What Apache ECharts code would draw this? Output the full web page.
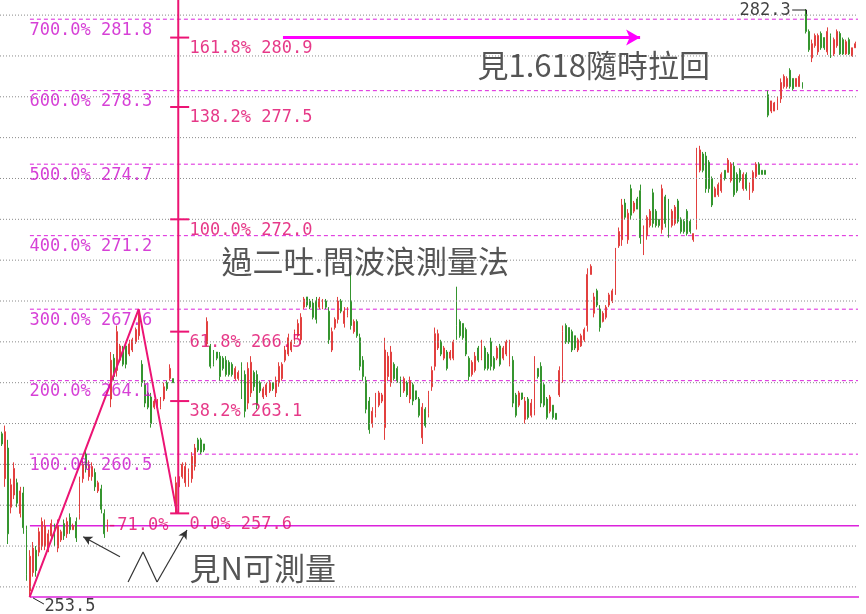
<!DOCTYPE html>
<html><head><meta charset="utf-8">
<script src="https://cdn.jsdelivr.net/npm/echarts@6/dist/echarts.min.js"></script>
<style>html,body{margin:0;padding:0;background:#fff}#c{width:866px;height:614px}</style>
</head><body><div id="c"></div><script>
// [open, close, low, high]
const ohlc = [
[261.5,261.0,260.9,261.6],[259.3,261.6,258.9,261.9],[260.8,256.6,256.1,261.2],[257.9,259.0,257.6,259.3],[258.5,259.8,258.3,260.1],
[259.1,258.1,257.9,259.3],[257.6,258.7,257.4,258.9],[258.6,256.9,256.6,258.9],[256.8,254.6,254.3,257.0],[253.8,255.5,253.5,255.8],
[254.7,255.9,254.5,256.2],[255.8,254.8,254.5,256.0],[255.7,256.7,255.5,256.9],[256.0,257.2,255.8,257.4],[256.0,257.0,255.8,257.3],
[255.9,256.6,255.7,256.8],[256.5,257.1,256.3,257.3],[256.9,256.2,256.0,257.1],[255.9,257.0,255.7,257.3],[256.3,256.7,256.2,256.8],
[257.1,256.5,256.3,257.3],[256.6,257.2,256.4,257.4],[257.4,256.8,256.6,257.6],[256.8,257.0,256.8,257.1],[257.2,256.4,256.2,257.4],
[257.6,259.1,257.3,259.4],[259.3,260.0,259.1,260.2],[260.5,259.8,259.6,260.7],[259.4,260.0,259.2,260.2],[259.4,259.9,259.2,260.1],
[259.6,258.9,258.7,259.8],[258.7,259.1,258.6,259.2],[258.8,257.8,257.6,259.0],[257.6,256.6,256.4,257.8],[256.8,257.2,256.7,257.3],
[263.2,265.1,262.8,265.5],[265.2,264.3,264.1,265.4],[264.6,266.5,264.3,266.8],[265.1,265.8,265.0,265.9],[265.6,264.9,264.8,265.8],
[265.8,264.9,264.7,265.9],[265.4,265.9,265.3,266.1],[265.6,266.1,265.5,266.2],[266.0,266.6,265.9,266.7],[266.3,267.4,266.1,267.6],
[264.9,264.0,263.8,265.1],[263.9,263.0,262.8,264.1],[263.5,262.8,262.7,263.6],[263.3,262.0,261.8,263.5],[262.8,263.1,262.7,263.2],
[262.8,263.1,262.7,263.2],[262.8,263.2,262.7,263.3],[263.2,263.8,263.1,264.0],[264.0,263.7,263.6,264.1],[264.2,264.7,264.1,264.9],
[264.2,264.0,264.0,264.2],
[257.9,259.1,257.6,259.4],[258.9,259.4,258.8,259.5],[259.4,260.0,259.3,260.1],[259.1,259.9,258.9,260.1],[259.0,259.6,258.9,259.8],
[259.3,260.4,259.1,260.6],[259.9,260.8,259.7,261.0],[261.2,260.7,260.6,261.3],[261.2,260.6,260.5,261.3],[261.0,260.7,260.6,261.0],
[265.9,267.0,265.8,267.2],[265.8,264.8,264.7,265.9],[265.5,264.9,264.8,265.6],[265.5,265.2,265.1,265.5],[265.3,264.3,264.1,265.5],
[265.2,264.7,264.6,265.3],[265.1,264.4,264.3,265.3],[265.0,264.4,264.3,265.1],[264.9,264.4,264.3,265.0],[264.2,264.7,264.1,264.8],
[264.2,264.5,264.1,264.6],[264.8,263.4,263.2,265.0],[264.4,262.6,262.3,264.6],[263.0,264.7,262.7,265.0],[263.5,265.0,263.3,265.3],
[264.5,263.8,263.6,264.6],[264.4,262.9,262.7,264.6],[264.0,263.6,263.5,264.1],[263.3,263.7,263.2,263.8],[263.4,263.9,263.3,264.0],
[263.6,264.0,263.5,264.1],[264.0,263.7,263.6,264.0],[263.5,264.1,263.3,264.3],[264.0,264.8,263.8,265.0],[264.2,264.9,264.1,265.0],
[265.1,265.6,265.0,265.8],[265.4,266.2,265.3,266.4],[265.6,266.0,265.5,266.1],[266.0,266.5,265.9,266.6],[266.3,266.9,266.2,267.1],
[266.1,267.2,265.9,267.4],[267.7,268.1,267.6,268.2],[268.2,267.8,267.7,268.2],[268.0,267.7,267.6,268.1],[267.9,267.2,267.1,268.1],
[268.0,267.1,266.9,268.2],[267.7,268.1,267.6,268.2],[267.7,268.0,267.6,268.1],[268.0,267.7,267.6,268.1],[267.5,266.1,265.9,267.7],
[265.6,266.5,265.5,266.7],[266.7,267.1,266.6,267.2],[267.1,268.0,266.9,268.2],[268.0,267.5,267.4,268.1],[266.9,267.5,266.7,267.7],
[267.3,267.6,267.2,267.7],[268.0,266.8,266.6,269.4],
[266.5,267.0,266.4,267.1],[267.0,266.3,266.2,267.1],[266.2,264.8,264.6,266.4],[265.1,264.3,264.1,265.3],[264.1,262.7,262.5,264.3],
[263.1,261.7,261.5,263.3],[262.0,262.6,261.8,262.8],[262.5,263.3,262.3,263.5],[262.9,263.5,262.8,263.6],[263.1,263.4,263.0,263.5],
[261.8,265.6,261.2,266.2],[264.3,265.3,264.1,265.5],[264.0,265.5,263.8,265.8],[264.9,264.2,264.1,265.0],[264.7,264.1,264.0,264.8],
[264.2,263.4,263.3,264.3],[263.6,264.2,263.5,264.3],[264.0,263.4,263.3,264.1],[263.2,264.1,263.0,264.3],[263.9,263.1,262.9,264.0],
[263.6,263.2,263.15,263.6],[263.2,262.4,262.3,263.3],[261.3,262.8,261.0,263.0],[262.7,261.9,261.8,262.8],[262.5,263.4,262.3,263.6],
[263.8,264.6,263.6,264.8],[264.8,266.4,264.6,266.7],[265.7,266.4,265.6,266.6],[266.0,265.4,265.3,266.1],[265.2,265.7,265.1,265.8],
[265.5,264.7,264.6,265.6],[265.2,265.5,265.1,265.6],[265.2,266.0,265.1,266.1],[266.8,266.3,266.1,268.7],[267.0,266.3,266.2,267.1],
[266.9,266.2,266.1,266.9],[266.6,265.4,265.3,266.7],[265.2,264.3,264.1,265.3],[264.4,265.0,264.3,265.1],[264.6,265.3,264.5,265.5],
[265.7,265.1,265.0,265.8],[265.2,265.9,265.1,266.1],[265.7,264.7,264.6,265.8],[265.4,264.7,264.6,265.5],[266.0,264.8,264.6,266.2],
[265.2,264.7,264.6,265.3],[265.2,265.7,265.1,265.8],[265.8,264.9,264.8,265.9],[265.2,265.7,265.1,265.8],[265.4,266.0,265.3,266.1],
[264.9,266.0,264.8,266.1],[265.1,263.0,262.8,265.3],[263.4,262.4,262.3,263.5],[262.9,263.5,262.8,263.6],[263.5,263.2,263.15,263.5],
[262.2,263.1,262.0,263.3],[263.2,262.3,262.2,263.3],[262.4,263.0,262.3,263.2],[262.7,265.0,262.4,265.3],[264.7,264.3,264.2,264.7],
[264.8,263.0,262.8,265.0],[263.9,262.9,262.8,264.0],[263.2,262.3,262.2,263.3],[262.6,263.3,262.5,263.4],[262.9,262.3,262.2,262.9],
[262.5,262.2,262.2,262.5],[263.4,264.6,263.3,264.8],[264.3,266.5,264.0,266.8],[266.8,266.0,265.9,266.9],[266.7,266.0,265.9,266.7],
[266.5,265.6,265.5,266.6],[266.3,265.7,265.6,266.3],[265.6,266.1,265.5,266.2],[265.8,266.3,265.75,266.4],[266.1,266.6,266.0,266.7],
[266.8,269.3,266.5,269.6],[269.3,269.7,269.3,269.8],[267.4,268.2,267.2,268.4],[268.5,267.8,267.7,268.6],[267.6,266.7,266.5,267.8],
[267.0,267.4,266.95,267.5],[267.2,267.7,267.1,267.8],[267.8,268.3,267.7,268.4],[268.0,268.5,267.9,268.6],[268.6,270.3,268.3,270.6],
[270.7,271.4,270.6,271.6],[271.0,272.7,270.7,273.0],
[272.8,272.1,272.0,273.0],[271.0,272.3,270.8,272.5],[273.5,272.2,272.0,273.7],[272.4,272.8,272.3,272.9],[273.0,272.5,272.5,273.1],
[273.4,271.1,270.8,273.7],[270.4,271.5,270.25,271.7],[271.2,272.1,271.0,272.2],[271.7,272.4,271.6,272.5],[273.3,271.8,271.6,273.5],
[272.4,271.7,271.6,272.5],[272.0,271.7,271.6,272.0],[271.5,273.5,271.3,273.7],[273.1,271.8,271.6,273.2],[272.8,271.3,271.1,273.0],
[271.7,272.4,271.6,272.5],[271.8,272.6,271.7,272.7],[272.9,271.9,271.8,273.0],[272.0,271.4,271.3,272.1],[271.9,271.4,271.3,272.0],
[272.4,271.3,271.2,272.5],[271.9,271.4,271.3,272.0],[271.0,271.3,270.9,271.3],[271.8,275.2,271.5,275.5],[274.4,275.4,274.3,275.6],
[275.2,274.4,274.3,275.3],[275.1,273.5,273.3,275.3],[274.8,273.5,273.3,274.9],[274.0,272.7,272.6,274.1],[273.1,273.5,273.1,273.6],
[273.2,273.7,273.1,273.8],[273.4,274.2,273.3,274.3],[274.4,274.0,273.9,274.4],[274.3,274.9,274.3,275.0],[273.9,274.7,273.8,274.8],
[274.6,273.2,273.1,274.8],[274.2,273.4,273.3,274.3],[274.4,273.9,273.8,274.5],[273.5,274.2,273.4,274.3],[274.2,273.5,273.4,274.3],
[273.0,273.7,272.95,273.8],[273.4,274.3,273.3,274.4],[274.1,274.7,274.0,274.8],[274.7,274.2,274.2,274.8],[274.4,274.2,274.2,274.4],
[274.4,274.2,274.2,274.4],[278.1,277.1,277.0,278.3],[277.3,277.8,277.2,277.8],[277.3,277.7,277.3,277.75],[277.4,277.9,277.35,278.0],
[277.9,278.7,277.7,278.9],[278.5,279.0,278.4,279.1],[278.5,278.9,278.4,279.0],[279.3,278.5,278.4,279.4],[278.9,278.4,278.3,278.9],
[278.5,278.9,278.5,278.9],[278.5,279.0,278.5,279.1],[278.7,278.45,278.4,278.7],[282.1,281.2,281.1,282.3],[281.2,280.3,280.2,281.3],
[279.9,280.6,279.7,280.8],[280.5,281.0,280.4,281.1],[280.2,281.0,280.05,281.1],[281.1,280.4,280.3,281.2],[280.9,280.4,280.3,280.9],
[280.2,281.2,280.05,281.4],[281.0,280.0,279.9,281.1],[280.1,280.8,280.0,280.9],[280.5,281.2,280.4,281.3],[281.1,280.1,280.05,281.2],
[280.8,280.1,280.05,280.9],[280.1,280.7,280.05,280.8],[280.8,280.1,280.05,280.9],[280.0,280.4,279.95,280.4],[280.4,280.6,280.4,280.7]
];
const categories = ohlc.map((_, i) => 'D' + (i + 1));

// visible price window
const yMin = 252.673, yMax = 282.74;
// dotted price grid and right-hand scale ticks
const gridValues = [254, 256, 258, 260, 262, 264, 266, 268, 270, 272, 274, 276, 278, 280, 282];
const scaleTicks = [253, 254, 255, 256, 257, 258, 259, 260, 261, 262, 263, 264, 265, 266, 267, 268, 269, 270, 271, 272, 273, 274, 275, 276, 277, 278, 279, 280, 281, 282];
// projection levels on the left (dashed)
const levelValues = [281.8, 278.3, 274.7, 271.2, 267.6, 264.1, 260.5];
const levelPct = ['700.0%', '600.0%', '500.0%', '400.0%', '300.0%', '200.0%', '100.0%'];
// fibonacci levels on the vertical ruler
const fibValues = [280.9, 277.5, 272.0, 266.5, 263.1, 257.6];
const fibPct = ['161.8%', '138.2%', '100.0%', '61.8%', '38.2%', '0.0%'];
// solid lines
const baseLow = 253.5, negLevel = 257.0, negPct = '-71.0%';
const peakHigh = 282.3;
// annotation anchors (bar index, price)
const zigzag = [[9, 253.5], [44, 267.6], [56.3, 257.6]];
const rulerX = 56.7, rulerTickFrom = 54.1, rulerTickTo = 60.2;
const levelStartX = 9.1, lineEndX = 277.6, scaleX = 276.5, scaleTickFrom = 275.5;
const nShape = [[40.6, 254.24], [45.4, 255.71], [49.9, 254.24], [59.5, 256.79]];
const pointerArrow = [[38.0, 255.48], [26.2, 256.46]];
const targetArrow = [[90.3, 280.9], [204.9, 280.9]];
const notes = [
  {x: 70.7, v: 269.9, text: '過二吐.間波浪測量法'},
  {x: 152.9, v: 279.5, text: '見1.618隨時拉回'},
  {x: 60.5, v: 254.88, text: '見N可測量'}
];

const N = ohlc.length;
const MAG = '#dc22dc', MAG_TXT = '#cc10cc', PINK = '#ec1474', PINK_TXT = '#e0086a', MONO = 'DejaVu Sans Mono';

function seg(points, color, width, type, z) {
  return {type: 'line', xAxisIndex: 1, yAxisIndex: 0, data: points, symbol: 'none', showSymbol: false,
    clip: false, silent: true, z: z || 3, lineStyle: {color, width, type: type || 'solid'}};
}
function label(x, v, text, lab) {
  return {value: [x, v], label: Object.assign({show: true, formatter: text}, lab)};
}
const below = (color) => ({position: [0, 3], align: 'left', verticalAlign: 'top', color, fontFamily: MONO, fontSize: 17});

const series = [];
gridValues.forEach(v => series.push(seg([[-0.5, v], [scaleX, v]], '#8a8a8a', 1, [1, 2], 0)));
series.push(seg([[scaleX, yMin], [scaleX, yMax]], '#a0a0a0', 1, 'solid', 0));
scaleTicks.forEach(v => series.push(seg([[scaleTickFrom, v], [scaleX, v]], '#a0a0a0', 1, 'solid', 0)));
series.push({type: 'candlestick', xAxisIndex: 0, yAxisIndex: 0, data: ohlc, barWidth: 1.4, silent: true, z: 2,
  itemStyle: {color: '#e2403f', color0: '#35952f', borderColor: '#e2403f', borderColor0: '#35952f', borderWidth: 1}});
levelValues.forEach(v => series.push(seg([[levelStartX, v], [lineEndX, v]], MAG, 1, [4, 3], 1)));
series.push(seg([[levelStartX, negLevel], [lineEndX, negLevel]], MAG, 1.5, 'solid', 1));
series.push(seg([[levelStartX, baseLow], [lineEndX, baseLow]], MAG, 1.5, 'solid', 1));
// ruler
series.push(seg([[rulerX, fibValues[fibValues.length - 1]], [rulerX, yMax]], PINK, 2, 'solid', 4));
fibValues.forEach(v => series.push(seg([[rulerTickFrom, v], [rulerTickTo, v]], PINK, 2, 'solid', 4)));
series.push(seg(zigzag, PINK, 2, 'solid', 4));
// black N shape
series.push(seg(nShape.slice(0, 3), '#333', 1.2, 'solid', 5));
// leaders
series.push(seg([[10.1, 253.46], [13.6, 253.16]], '#222', 1, 'solid', 5));
series.push(seg([[253.7, 282.25], [258.3, 282.25], [258.3, 282.05]], '#222', 1, 'solid', 5));
// arrows
series.push({type: 'line', xAxisIndex: 1, yAxisIndex: 0, data: [], silent: true, clip: false, z: 6,
  markLine: {silent: true, animation: false, label: {show: false}, symbol: ['none', 'arrow'],
    data: [
      [{coord: nShape[2], symbol: 'none', lineStyle: {color: '#333', width: 1.2, type: 'solid'}},
       {coord: nShape[3], symbol: 'arrow', symbolSize: [7, 9]}],
      [{coord: pointerArrow[0], symbol: 'none', lineStyle: {color: '#333', width: 1.2, type: 'solid'}},
       {coord: pointerArrow[1], symbol: 'arrow', symbolSize: [7, 9]}],
      [{coord: targetArrow[0], symbol: 'none', lineStyle: {color: '#ff00ff', width: 3, type: 'solid'}},
       {coord: targetArrow[1], symbol: 'arrow', symbolSize: [12, 14]}]
    ]}});
// texts
const texts = [];
levelValues.forEach((v, i) => texts.push(label(levelStartX, v, levelPct[i] + ' ' + v.toFixed(1), below(MAG_TXT))));
fibValues.forEach((v, i) => texts.push(label(60.5, v, fibPct[i] + ' ' + v.toFixed(1), below(PINK_TXT))));
texts.push(label(34.0, negLevel, negPct, {position: [0, 0], align: 'left', verticalAlign: 'middle', color: PINK_TXT, fontFamily: MONO, fontSize: 17}));
texts.push(label(13.9, baseLow, baseLow.toFixed(1), {position: [0, 1], align: 'left', verticalAlign: 'top', color: '#111', fontFamily: MONO, fontSize: 17}));
texts.push(label(253.4, 282.2, peakHigh.toFixed(1), {position: [0, 0], align: 'right', verticalAlign: 'middle', color: '#111', fontFamily: MONO, fontSize: 17}));
notes.forEach(n => texts.push(label(n.x, n.v, n.text, {position: [0, 0], align: 'left', verticalAlign: 'middle', color: '#2a2a2a', fontFamily: 'Noto Sans CJK TC', fontSize: 31})));
series.push({type: 'scatter', xAxisIndex: 1, yAxisIndex: 0, symbolSize: 1, itemStyle: {color: 'rgba(0,0,0,0)'}, silent: true, clip: false, z: 7, data: texts});

const chart = echarts.init(document.getElementById('c'), null, {renderer: 'canvas'});
chart.setOption({
  animation: false,
  backgroundColor: '#ffffff',
  grid: {left: 0, right: 9, top: 0, bottom: 0},
  xAxis: [
    {type: 'category', data: categories, boundaryGap: true, show: false},
    {type: 'value', min: -0.5, max: N - 0.5, show: false}
  ],
  yAxis: [
    {type: 'value', min: yMin, max: yMax, show: false, splitLine: {show: false}}
  ],
  series
});
</script></body></html>
